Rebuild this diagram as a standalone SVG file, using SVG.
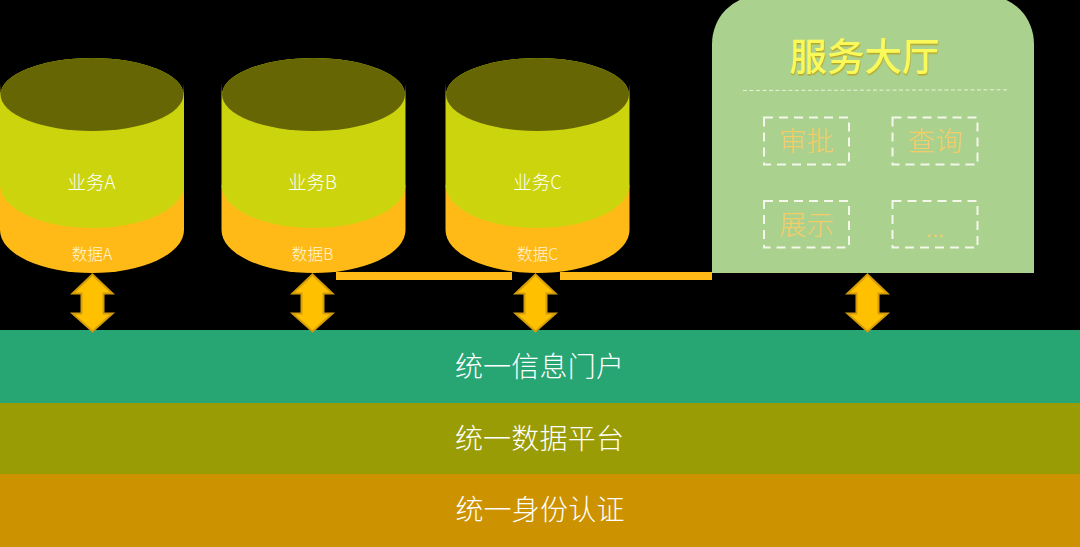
<svg xmlns="http://www.w3.org/2000/svg" width="1080" height="547" viewBox="0 0 1080 547">
<style>
text{font-family:"Noto Sans CJK SC","Noto Sans",sans-serif;text-anchor:middle;font-weight:400}
.biz{font-size:18.5px;fill:#fff;font-weight:300}
.data{font-size:15.7px;fill:#fff5d8;font-weight:300}
.band{font-size:28px;fill:#fff;font-weight:300;letter-spacing:.2px}
.item{font-size:27.5px;fill:#f3cd68;font-weight:300}
.box{fill:none;stroke:#f4f8ea;stroke-width:2;stroke-dasharray:9 6}
.arrow{fill:#ffc000;stroke:#d49c08;stroke-width:2;stroke-linejoin:miter}
.bar{fill:#ffba18}
</style>
<defs>
<g id="cyl">
<path d="M0 185V230A92 43 0 0 0 184 230V185Z" fill="#ffba18"/>
<path d="M0 83V185A92 43 0 0 0 184 185V83L183.500 94.500A91.500 36.500 0 0 0 .5 94.500Z" fill="#cbd40d"/>
<ellipse cx="92" cy="94.500" rx="91.500" ry="36.500" fill="#666604"/>
</g>
<path id="arr" d="M0 1.500L20 20.500H11V40.500H20L0 58.500 -20 40.500H-11V20.500H-20Z"/>
<filter id="glow" x="-10%" y="-10%" width="120%" height="130%"><feDropShadow dx="0.500" dy="1.500" stdDeviation="0.700" flood-color="#b9a822" flood-opacity="1"/></filter>
</defs>
<rect width="1080" height="547" fill="#000"/>
<g id="node-cyl-a"><use href="#cyl"/><text class="biz" x="91.500" y="188.500">业务A</text><text class="data" x="92" y="260">数据A</text></g>
<g id="node-cyl-b"><use href="#cyl" x="221.500"/><text class="biz" x="312.500" y="188.500">业务B</text><text class="data" x="312.500" y="260">数据B</text></g>
<g id="node-cyl-c"><use href="#cyl" x="445.500"/><text class="biz" x="537.500" y="188.500">业务C</text><text class="data" x="537.500" y="260">数据C</text></g>
<g id="node-hall">
<path d="M712 273V44A46 48 0 0 1 758 -4H988A46 48 0 0 1 1034 44V273Z" fill="#aad18e"/>
<text x="864.500" y="70" font-size="37.500" fill="#f9f95c" filter="url(#glow)" style="font-weight:500">服务大厅</text>
<path d="M743 90.500L1008 89.800" fill="none" stroke="#eaf3d8" stroke-width="1" stroke-dasharray="4 2.500"/>
<rect class="box" x="764" y="117.500" width="85" height="47"/><text class="item" x="806.500" y="151">审批</text>
<rect class="box" x="892.500" y="117.500" width="85" height="47"/><text class="item" x="935" y="151">查询</text>
<rect class="box" x="764" y="201" width="85" height="46.500"/><text class="item" x="806.500" y="235">展示</text>
<rect class="box" x="892.500" y="201" width="85" height="46.500"/><text x="935" y="237" font-size="22" style="font-family:'Liberation Sans',sans-serif;fill:#f3cd68">...</text>
</g>
<g id="node-band-portal"><rect y="330" width="1080" height="73" fill="#27a573"/><text class="band" x="539.500" y="377">统一信息门户</text></g>
<g id="node-band-data"><rect y="403" width="1080" height="71" fill="#9a9c05"/><text class="band" x="539.500" y="449">统一数据平台</text></g>
<g id="node-band-auth"><rect y="474" width="1080" height="73" fill="#cc9200"/><text class="band" x="540" y="520">统一身份认证</text></g>
<g id="connectors">
<rect class="bar" x="336" y="272" width="176" height="8"/>
<rect class="bar" x="560" y="272" width="152" height="8"/>
<use href="#arr" class="arrow" x="92.500" y="273"/>
<use href="#arr" class="arrow" x="312.500" y="273"/>
<use href="#arr" class="arrow" x="535.500" y="273"/>
<use href="#arr" class="arrow" x="867.500" y="273"/>
</g>
</svg>
